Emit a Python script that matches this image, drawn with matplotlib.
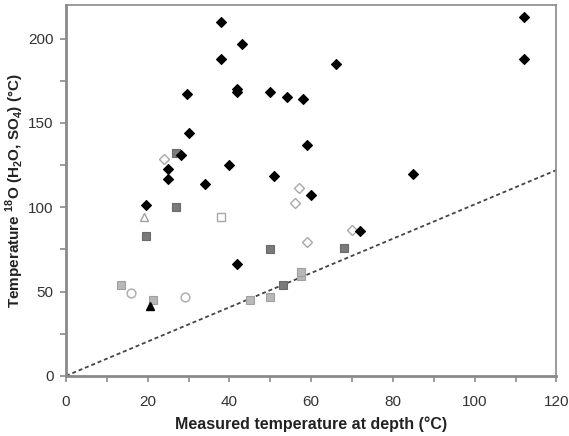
"""Scatter: sulfate-water oxygen isotope temperatures vs measured temperature at depth."""
import matplotlib
matplotlib.use("Agg")
import matplotlib.pyplot as plt
from matplotlib.ticker import MultipleLocator

plt.rcParams["font.family"] = ["Liberation Sans", "DejaVu Sans"]
plt.rcParams["mathtext.fontset"] = "custom"
plt.rcParams["mathtext.rm"] = "Liberation Sans:bold"
plt.rcParams["mathtext.bf"] = "Liberation Sans:bold"

# black filled diamonds
black_dia_x = [112, 112, 38, 38, 43, 29.6, 41.9, 41.9, 50, 54, 58, 66, 30, 28.1, 25, 25,
               39.9, 34.1, 51, 19.5, 59, 60, 85, 41.9, 71.9]
black_dia_y = [213, 188, 210, 188, 197, 167, 170, 168, 168, 165.5, 164, 185, 144, 131, 122.7, 117,
               125, 113.8, 118.5, 101.5, 136.6, 107, 119.7, 66.2, 86]
# open diamonds
open_dia_x = [23.9, 57, 56, 59, 70]
open_dia_y = [128.6, 111.4, 102.7, 79.1, 86.2]
# dark gray squares
dark_sq_x = [27, 27, 19.5, 50, 53, 68]
dark_sq_y = [132, 100, 82.7, 75, 53.7, 75.7]
# light gray squares
light_sq_x = [13.5, 21.2, 45, 50, 57.5, 57.6]
light_sq_y = [53.7, 45, 45, 47, 59, 61.8]
# open square
open_sq_x = [38]
open_sq_y = [94]
# open circles
open_circ_x = [16, 29.2]
open_circ_y = [49.3, 47]
# triangles
open_tri_x = [19.1]
open_tri_y = [94]
black_tri_x = [20.5]
black_tri_y = [41.5]
# reference line
line_x = [0, 120]
line_y = [0, 122]


def main():
    fig = plt.figure(figsize=(5.69, 4.36), dpi=100)
    ax = fig.add_axes([0.116, 0.138, 0.862, 0.851])

    ax.plot(line_x, line_y, color="#444444", lw=1.3, ls=(0, (2.2, 1.6)), zorder=1)

    ax.plot(light_sq_x, light_sq_y, "s", ms=6.3, mfc="#b8b8b8", mec="#a0a0a0", mew=0.8, ls="none", zorder=2)
    ax.plot(dark_sq_x, dark_sq_y, "s", ms=6.3, mfc="#7a7a7a", mec="#6a6a6a", mew=0.8, ls="none", zorder=2)
    ax.plot(open_sq_x, open_sq_y, "s", ms=6.3, mfc="white", mec="#a8a8a8", mew=1.0, ls="none", zorder=2)
    ax.plot(open_circ_x, open_circ_y, "o", ms=6.3, mfc="white", mec="#b0b0b0", mew=1.1, ls="none", zorder=2)
    ax.plot(open_tri_x, open_tri_y, "^", ms=6.3, mfc="white", mec="#a0a0a0", mew=1.0, ls="none", zorder=2)
    ax.plot(open_dia_x, open_dia_y, "D", ms=4.6, mfc="white", mec="#a8a8a8", mew=1.0, ls="none", zorder=3)
    ax.plot(black_tri_x, black_tri_y, "^", ms=6, mfc="black", mec="black", ls="none", zorder=3)
    ax.plot(black_dia_x, black_dia_y, "D", ms=4.9, mfc="black", mec="black", mew=0.8, ls="none", zorder=4)

    ax.set_xlim(0, 120)
    ax.set_ylim(0, 220)
    ax.xaxis.set_major_locator(MultipleLocator(20))
    ax.xaxis.set_minor_locator(MultipleLocator(10))
    ax.yaxis.set_major_locator(MultipleLocator(50))
    ax.yaxis.set_minor_locator(MultipleLocator(25))
    ax.yaxis.set_ticks([0, 50, 100, 150, 200])

    for side in ["left", "bottom"]:
        ax.spines[side].set_color("#8a8a8a")
        ax.spines[side].set_linewidth(2)
    for side in ["top", "right"]:
        ax.spines[side].set_color("#8a8a8a")
        ax.spines[side].set_linewidth(1.2)

    ax.tick_params(which="both", direction="out", color="#8a8a8a", width=1.2,
                   labelsize=11, labelcolor="#333333")
    ax.tick_params(which="major", length=4)
    ax.tick_params(which="minor", length=4)
    ax.tick_params(axis="x", pad=10)
    ax.tick_params(axis="y", pad=5)

    ax.set_xlabel("Measured temperature at depth (°C)", fontsize=11.5, fontweight="bold",
                  color="#222222", labelpad=5)
    ax.set_ylabel(r"Temperature $^{18}$O (H$_2$O, SO$_4$) (°C)", fontsize=11,
                  fontweight="bold", color="#222222")
    ax.yaxis.set_label_coords(-0.082, 0.5)

    fig.savefig("out.png", dpi=100)


if __name__ == "__main__":
    main()
